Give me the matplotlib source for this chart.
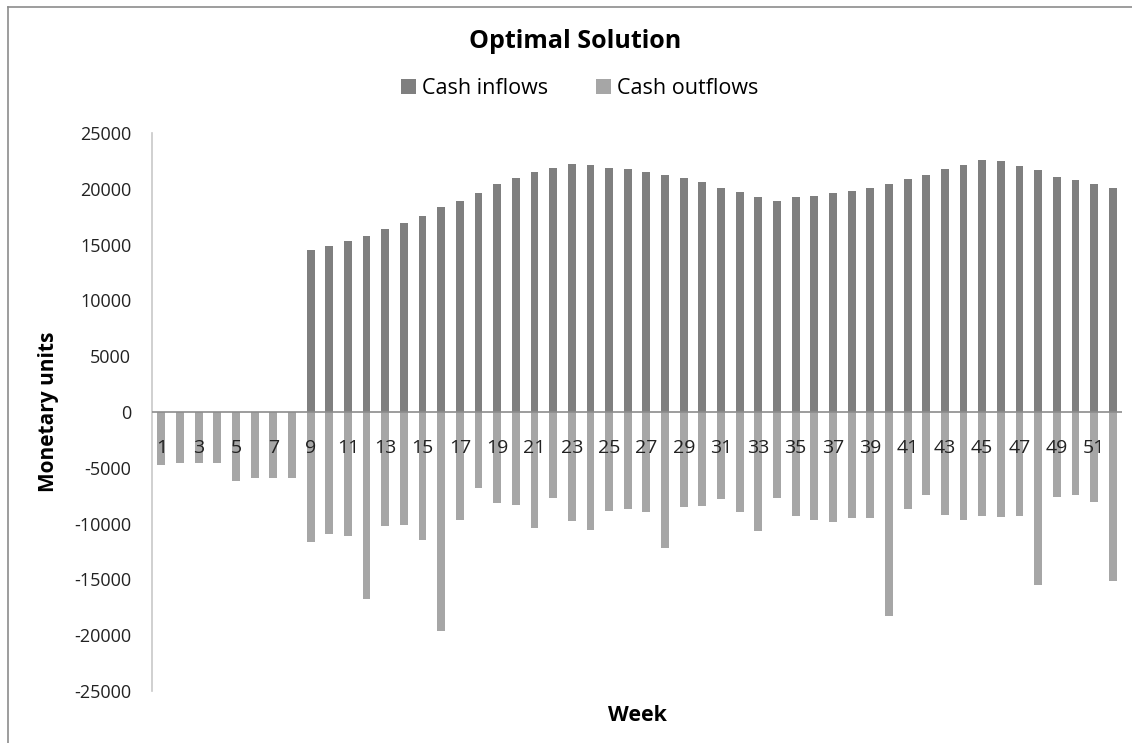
import matplotlib.pyplot as plt
import numpy as np
from matplotlib.lines import Line2D

plt.rcParams['font.family'] = ['Open Sans', 'DejaVu Sans']
plt.rcParams['axes.unicode_minus'] = False

weeks = list(range(1, 53))

# cash inflows per week (zero before week 9)
inflows = [0, 0, 0, 0, 0, 0, 0, 0,
           14550, 14900, 15350, 15800, 16400, 16950, 17530, 18340,
           18900, 19590, 20400, 20970, 21530, 21890, 22220, 22100,
           21890, 21770, 21530, 21200, 20970, 20640, 20040, 19710,
           19230, 18900, 19230, 19350, 19590, 19830, 20040, 20400,
           20840, 21200, 21770, 22100, 22580, 22460, 22010, 21650,
           21080, 20750, 20400, 20040]

# cash outflows per week (negative)
outflows = [-4750, -4600, -4600, -4600, -6210, -5880, -5880, -5880,
            -11610, -10900, -11140, -16760, -10240, -10090, -11500, -19590,
            -9640, -6780, -8180, -8300, -10360, -7700, -9800, -10570,
            -8840, -8720, -8960, -12150, -8510, -8390, -7820, -8960,
            -10690, -7700, -9290, -9640, -9880, -9520, -9520, -18240,
            -8720, -7460, -9200, -9640, -9290, -9400, -9290, -15470,
            -7580, -7460, -8030, -15140]

c_in = '#7f7f7f'
c_out = '#a6a6a6'

fig = plt.figure(figsize=(11.32, 7.43), dpi=100)
ax = fig.add_axes([0.1343, 0.070, 0.857, 0.751])

x = np.arange(len(weeks))
ax.bar(x, inflows, width=0.42, color=c_in, label='Cash inflows', zorder=2)
ax.bar(x, outflows, width=0.42, color=c_out, label='Cash outflows', zorder=2)
ax.axhline(0, color='#8c8c8c', lw=1.2, zorder=3)

ax.set_xlim(-0.5, len(weeks) - 0.5)
ax.set_ylim(-25000, 25000)
ax.set_yticks(range(-25000, 25001, 5000))
ax.tick_params(axis='y', length=0, labelsize=13, pad=15, colors='#222222')

# week labels sit just under the zero line, like Excel's "next to axis"
ax.set_xticks([])
for i in range(0, len(weeks), 2):
    ax.text(x[i], -3200, str(weeks[i]), ha='center', va='center',
            fontsize=14, color='#222222', zorder=4)

for s in ['top', 'right', 'bottom']:
    ax.spines[s].set_visible(False)
ax.spines['left'].set_color('#c8c8c8')
ax.spines['left'].set_linewidth(1.2)

ax.set_xlabel('Week', fontsize=15.5, fontweight='bold', labelpad=10)
ax.set_ylabel('Monetary units', fontsize=15, fontweight='bold', labelpad=11)

fig.text(0.508, 0.944, 'Optimal Solution', ha='center', va='center',
         fontsize=18, fontweight='bold')
fig.legend(loc='center', bbox_to_anchor=(0.512, 0.881), ncol=2, frameon=False,
           fontsize=15.5, handlelength=0.7, handleheight=0.7, handletextpad=0.3,
           columnspacing=2.2)

# chart-area border (top and left edges visible in the reference)
fig.add_artist(Line2D([0.007, 0.007], [0, 0.991], color='#8c8c8c', lw=1.2))
fig.add_artist(Line2D([0.007, 1.0], [0.991, 0.991], color='#8c8c8c', lw=1.2))

fig.savefig('out.png', dpi=100)
